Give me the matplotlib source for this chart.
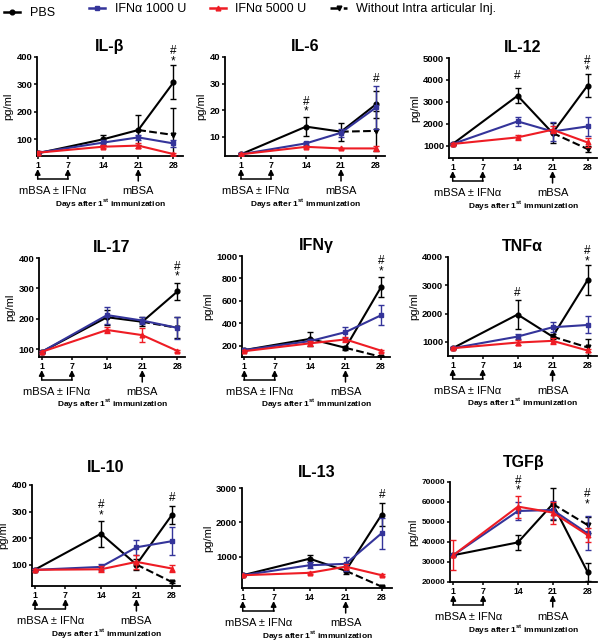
import matplotlib
matplotlib.use("Agg")
import matplotlib.pyplot as plt
from matplotlib.lines import Line2D

plt.rcParams["font.family"] = ["Liberation Sans", "DejaVu Sans"]
plt.rcParams["mathtext.fontset"] = "custom"
plt.rcParams["mathtext.rm"] = "Liberation Sans"
plt.rcParams["mathtext.bf"] = "Liberation Sans:bold"

# ---- data ----
DAYS = [1, 14, 21, 28]
TICK_DAYS = [1, 7, 14, 21, 28]
PANEL_NAMES = ["IL-β", "IL-6", "IL-12", "IL-17", "IFNγ", "TNFα", "IL-10", "IL-13", "TGFβ"]

pbs_mean = [
    [48, 99, 133, 307],
    [3.4, 13.8, 11.9, 22.2],
    [1080, 3280, 1580, 3740],
    [91, 205, 190, 290],
    [160, 260, 180, 720],
    [780, 1970, 1190, 3180],
    [81, 216, 100, 287],
    [470, 950, 600, 2230],
    [33400, 39800, 59000, 25000],
]
pbs_err = [
    [5, 15, 55, 62],
    [0.3, 3.5, 3.4, 5],
    [50, 350, 450, 520],
    [3, 25, 15, 27],
    [10, 60, 20, 90],
    [40, 500, 100, 520],
    [3, 50, 20, 35],
    [20, 100, 100, 330],
    [500, 3800, 8000, 4500],
]
ifn1000_mean = [
    [50, 87, 106, 84],
    [3.4, 7.5, 11.5, 21],
    [1080, 2110, 1650, 1880],
    [91, 212, 194, 170],
    [160, 240, 320, 470],
    [780, 1190, 1520, 1600],
    [80, 91, 165, 188],
    [470, 760, 800, 1690],
    [33400, 55500, 56000, 44300],
]
ifn1000_err = [
    [6, 8, 8, 12],
    [0.3, 0.5, 1.5, 8],
    [50, 200, 420, 420],
    [3, 28, 12, 37],
    [10, 20, 50, 90],
    [40, 100, 180, 300],
    [3, 10, 28, 52],
    [20, 80, 200, 450],
    [500, 4500, 4500, 8500],
]
ifn5000_mean = [
    [50, 72, 76, 45],
    [3.4, 6.2, 5.6, 5.6],
    [1080, 1380, 1730, 1150],
    [91, 163, 146, 94],
    [150, 220, 255, 155],
    [780, 980, 1040, 700],
    [80, 82, 110, 85],
    [470, 540, 720, 470],
    [33400, 57700, 54700, 43500],
]
ifn5000_err = [
    [8, 6, 8, 4],
    [0.3, 0.4, 0.3, 1],
    [50, 120, 150, 200],
    [3, 10, 22, 3],
    [10, 20, 20, 8],
    [40, 80, 100, 60],
    [3, 12, 25, 15],
    [20, 30, 80, 30],
    [7500, 5500, 5500, 3500],
]
# "without intra articular injection" branches off PBS at day 21, value at day 28
without_mean = [115, 12.2, 850, 170, 100, 810, 34, 140, 48500]
without_err = [97, 7.5, 150, 35, 5, 280, 4, 20, 4000]

# significance marks above a day: (day, text, y centre)
SIG_MARKS = [
    [(28, "#\n*", 403)],
    [(14, "#\n*", 21.3), (28, "#", 31.9)],
    [(14, "#", 4160), (28, "#\n*", 4650)],
    [(28, "#\n*", 355)],
    [(28, "#\n*", 910)],
    [(14, "#", 2713), (28, "#\n*", 4020)],
    [(14, "#\n*", 305), (28, "#", 350)],
    [(28, "#", 2788)],
    [(14, "#\n*", 68200), (28, "#\n*", 61500)],
]

# ---- layout ----
W, H = 600, 642
# left, top, right, bottom of each axes box in pixels
PANEL_BOX = [
    (37, 57, 183, 156), (225, 57, 385, 156), (449, 58, 597, 158),
    (39, 258, 185, 357), (242, 256, 390, 357), (448, 257, 597, 356),
    (32, 485, 180, 586), (242, 488, 392, 588), (450, 482, 597, 582),
]
XLIMS = [
    (0.86, 29.9), (-2.2, 29.8), (0.26, 29.9),
    (0.46, 29.5), (0.54, 29.8), (0.06, 29.9),
    (0.4, 29.6), (0.86, 30.0), (0.34, 29.9),
]
YLIMS = [
    (38, 400), (2.75, 40), (440, 5000),
    (74, 400), (98, 1000), (505, 4000),
    (19, 400), (100, 3000), (20000, 70000),
]
YTICKS = [
    [100, 200, 300, 400], [10, 20, 30, 40], [1000, 2000, 3000, 4000, 5000],
    [100, 200, 300, 400], [200, 400, 600, 800, 1000], [1000, 2000, 3000, 4000],
    [100, 200, 300, 400], [1000, 2000, 3000], [20000, 30000, 40000, 50000, 60000, 70000],
]
TITLE_PAD = [4, 4, 4, 4, 4, 4, 9, 8, 11]
YTICK_SIZE = [6.8, 6.8, 6.8, 6.8, 6.8, 6.8, 6.8, 6.8, 6.0]

BLACK = "black"
BLUE = "#34349a"
RED = "#ee1c24"

fig = plt.figure(figsize=(W / 100, H / 100), dpi=100)

err_kw = dict(capsize=2.2, elinewidth=1.0, capthick=1.0, markersize=3.4, linewidth=1.5)
arrow_kw = dict(arrowstyle="-|>", mutation_scale=8, lw=1.1, color="black", shrinkA=0, shrinkB=0)

for i, name in enumerate(PANEL_NAMES):
    left, top, right, bottom = PANEL_BOX[i]
    h = bottom - top
    ax = fig.add_axes([left / W, 1 - bottom / H, (right - left) / W, h / H])

    ax.errorbar(DAYS, pbs_mean[i], yerr=pbs_err[i], color=BLACK, marker="o", zorder=3, **err_kw)
    ax.plot([21, 28], [pbs_mean[i][2], without_mean[i]], color=BLACK, ls="--", lw=1.5, zorder=3)
    ax.errorbar([28], [without_mean[i]], yerr=[without_err[i]], color=BLACK, marker="v",
                ls="none", zorder=3, **err_kw)
    ax.errorbar(DAYS, ifn1000_mean[i], yerr=ifn1000_err[i], color=BLUE, marker="s", zorder=4, **err_kw)
    ax.errorbar(DAYS, ifn5000_mean[i], yerr=ifn5000_err[i], color=RED, marker="^", zorder=5, **err_kw)

    ax.set_xlim(*XLIMS[i])
    ax.set_ylim(*YLIMS[i])
    ax.set_xticks(TICK_DAYS)
    ax.set_yticks(YTICKS[i])
    for side in ("top", "right"):
        ax.spines[side].set_visible(False)
    for side in ("left", "bottom"):
        ax.spines[side].set_linewidth(1.3)
    ax.tick_params(length=2.5, width=1.1, pad=1)
    ax.tick_params(axis="x", labelsize=6.3)
    ax.tick_params(axis="y", labelsize=YTICK_SIZE[i])
    for lab in ax.get_xticklabels() + ax.get_yticklabels():
        lab.set_fontweight("bold")
    ax.set_ylabel("pg/ml", fontsize=8, labelpad=2)
    ax.set_title(name, fontsize=11.5, fontweight="bold", pad=TITLE_PAD[i])

    for day, mark, yv in SIG_MARKS[i]:
        ax.text(day, yv, mark, ha="center", va="center", fontsize=8.5, linespacing=0.8,
                clip_on=False)

    # immunization schedule below the axis
    tr = ax.get_xaxis_transform()
    y_head, y_base, y21 = -13 / h, -23 / h, -25 / h
    for d in (1, 7):
        ax.annotate("", xy=(d, y_head), xytext=(d, y_base), xycoords=tr, textcoords=tr,
                    arrowprops=arrow_kw, annotation_clip=False)
    ax.plot([1, 7], [y_base, y_base], transform=tr, color="black", lw=1.1, clip_on=False)
    ax.annotate("", xy=(21, y_head), xytext=(21, y21), xycoords=tr, textcoords=tr,
                arrowprops=arrow_kw, annotation_clip=False)
    ax.text(4, -35 / h, "mBSA ± IFNα", transform=tr, ha="center", va="center", fontsize=8)
    ax.text(21, -35 / h, "mBSA", transform=tr, ha="center", va="center", fontsize=8)
    ax.text(0.5, -47 / h, r"Days after 1$^{\bf st}$ immunization", transform=ax.transAxes,
            ha="center", va="center", fontsize=6, fontweight="bold")

handles = [
    Line2D([], [], color=BLACK, marker="o", markersize=3.4, lw=1.8),
    Line2D([], [], color=BLUE, marker="s", markersize=3.4, lw=1.8),
    Line2D([], [], color=RED, marker="^", markersize=3.4, lw=1.8),
    Line2D([], [], color=BLACK, marker="v", markersize=3.4, lw=1.8, ls="--"),
]
labels = ["PBS", "IFNα 1000 U", "IFNα 5000 U", "Without Intra articular Inj."]
leg_kw = dict(frameon=False, fontsize=9, handlelength=1.3, handletextpad=0.75,
              columnspacing=1.9, borderaxespad=0.0, borderpad=0.0)
fig.legend(handles[:1], labels[:1], loc="upper left", bbox_to_anchor=(4 / W, 1 - 7 / H), **leg_kw)
fig.legend(handles[1:], labels[1:], loc="upper left", ncol=3,
           bbox_to_anchor=(89 / W, 1 - 3 / H), **leg_kw)

fig.savefig("out.png", dpi=100)
